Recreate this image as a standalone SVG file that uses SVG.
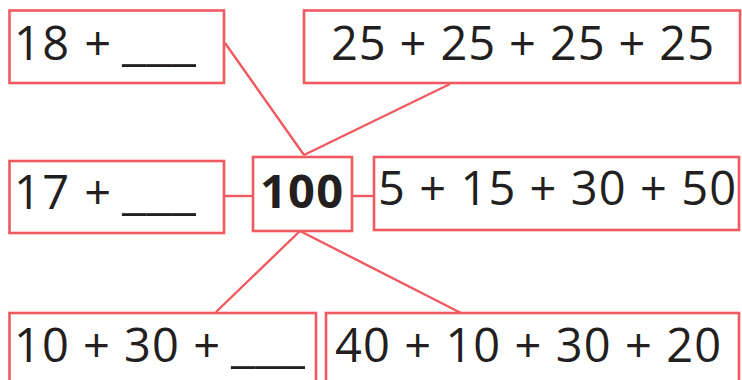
<svg xmlns="http://www.w3.org/2000/svg" width="742" height="380" viewBox="0 0 742 380">
<style>
.box{fill:#fff;stroke:#ee5a60;stroke-width:2.6}
.ln{stroke:#ee5a60;stroke-width:2.4;fill:none}
.t{font-family:"Open Sans","DejaVu Sans",sans-serif;font-size:47px;fill:#231f20}
.b{font-weight:bold}
</style>
<rect width="742" height="380" fill="#fff"/>
<g id="connectors">
<line class="ln" x1="225" y1="43" x2="304" y2="155"/>
<line class="ln" x1="450" y1="84" x2="304" y2="155"/>
<line class="ln" x1="224" y1="196" x2="253" y2="196"/>
<line class="ln" x1="352" y1="196" x2="374" y2="196"/>
<line class="ln" x1="300" y1="231" x2="216" y2="312"/>
<line class="ln" x1="300" y1="231" x2="463" y2="314"/>
</g>
<g id="n1"><rect class="box" x="9.5" y="10.5" width="214.5" height="72.5"/><text class="t" y="60"><tspan x="14" textLength="97">18 +</tspan> <tspan x="122" textLength="74" lengthAdjust="spacingAndGlyphs">___</tspan></text></g>
<g id="n2"><rect class="box" x="304" y="10.5" width="436" height="72.5"/><text class="t" x="331" y="60" textLength="383">25 + 25 + 25 + 25</text></g>
<g id="n3"><rect class="box" x="9.5" y="161" width="214.5" height="72"/><text class="t" y="209"><tspan x="14" textLength="97">17 +</tspan> <tspan x="122" textLength="74" lengthAdjust="spacingAndGlyphs">___</tspan></text></g>
<g id="n100"><rect class="box" x="253" y="157" width="99" height="74"/><text class="t b" x="260" y="208" textLength="83">100</text></g>
<g id="n4"><rect class="box" x="374" y="157" width="365" height="73"/><text class="t" x="378" y="205" textLength="358">5 + 15 + 30 + 50</text></g>
<g id="n5"><rect class="box" x="9.5" y="313" width="306.5" height="80"/><text class="t" y="362"><tspan x="14" textLength="206">10 + 30 +</tspan> <tspan x="231" textLength="74" lengthAdjust="spacingAndGlyphs">___</tspan></text></g>
<g id="n6"><rect class="box" x="326" y="313" width="413" height="80"/><text class="t" x="335" y="362" textLength="386">40 + 10 + 30 + 20</text></g>
</svg>
